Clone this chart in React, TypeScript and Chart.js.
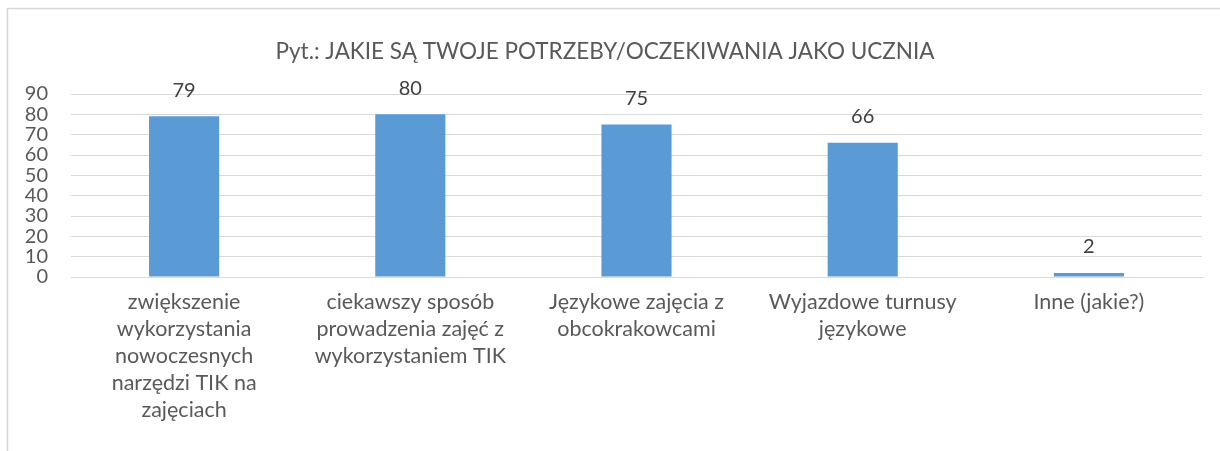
import React, { useEffect, useRef } from "react";
import { Chart, registerables } from "chart.js";

Chart.register(...registerables);

const titleText = "Pyt.: JAKIE SĄ TWOJE POTRZEBY/OCZEKIWANIA JAKO UCZNIA";
const categories: string[][] = [
  ["zwiększenie", "wykorzystania", "nowoczesnych", "narzędzi TIK na", "zajęciach"],
  ["ciekawszy sposób", "prowadzenia zajęć z", "wykorzystaniem TIK"],
  ["Językowe zajęcia z", "obcokrakowcami"],
  ["Wyjazdowe turnusy", "językowe"],
  ["Inne (jakie?)"],
];
const values: number[] = [79, 80, 75, 66, 2];
const yMax = 90;
const yStep = 10;

const FONT = "Lato, 'Open Sans', sans-serif";
const TEXT = "#595959";
const GRID = "#d9d9d9";
const BAR = "#5b9bd5";

const borderPlugin = {
  id: "frameBorder",
  beforeDraw(chart: any) {
    const ctx = chart.ctx;
    ctx.save();
    ctx.strokeStyle = "#d6d6d6";
    ctx.lineWidth = 1.5;
    ctx.beginPath();
    ctx.moveTo(7.5, chart.height);
    ctx.lineTo(7.5, 8.5);
    ctx.lineTo(chart.width, 8.5);
    ctx.stroke();
    ctx.font = `22.5px ${FONT}`;
    ctx.fillStyle = TEXT;
    ctx.textAlign = "center";
    ctx.textBaseline = "middle";
    ctx.fillText(titleText, 605, 52);
    ctx.restore();
  },
};

const valueLabelPlugin = {
  id: "valueLabels",
  afterDatasetsDraw(chart: any) {
    const ctx = chart.ctx;
    const meta = chart.getDatasetMeta(0);
    ctx.save();
    ctx.font = `20px ${FONT}`;
    ctx.fillStyle = "#404040";
    ctx.textAlign = "center";
    ctx.textBaseline = "middle";
    meta.data.forEach((el: any, i: number) => {
      ctx.fillText(String(values[i]), el.x, el.y - 26);
    });
    ctx.restore();
  },
};

export default function App() {
  const ref = useRef<HTMLCanvasElement | null>(null);
  useEffect(() => {
    if (!ref.current) return;
    const chart = new Chart(ref.current, {
      type: "bar",
      data: {
        labels: categories,
        datasets: [
          {
            data: values,
            backgroundColor: BAR,
            borderWidth: 0,
            barPercentage: 1,
            categoryPercentage: 0.31,
          },
        ],
      },
      options: {
        responsive: false,
        animation: false,
        layout: { padding: { left: 0, right: 18, top: 94, bottom: 0 } },
        plugins: {
          legend: { display: false },
          tooltip: { enabled: false },
          title: { display: false },
        },
        scales: {
          x: {
            grid: { display: false, drawTicks: false },
            border: { display: true, color: GRID, width: 1 },
            ticks: {
              color: TEXT,
              font: { family: FONT, size: 21.5, lineHeight: 1.256 },
              padding: 12,
              maxRotation: 0,
              autoSkip: false,
            },
            afterFit: (scale: any) => {
              scale.height = 174;
            },
          },
          y: {
            min: 0,
            max: yMax,
            grid: { color: GRID, lineWidth: 1, drawTicks: false },
            border: { display: false },
            ticks: {
              stepSize: yStep,
              autoSkip: false,
              color: TEXT,
              font: { family: FONT, size: 20, lineHeight: 1 },
              padding: 23,
            },
            afterFit: (scale: any) => {
              scale.width = 71;
            },
          },
        },
      },
      plugins: [borderPlugin, valueLabelPlugin],
    });
    return () => chart.destroy();
  }, []);
  return (
    <div style={{ position: "fixed", left: 0, top: 0, width: 1220, height: 451, background: "#fff" }}>
      <canvas ref={ref} width={1220} height={451} style={{ display: "block" }} />
    </div>
  );
}
